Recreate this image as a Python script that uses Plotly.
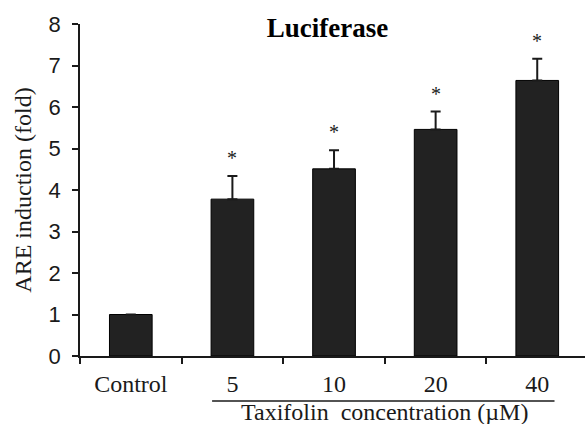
import plotly.graph_objects as go

categories = ["Control", "5", "10", "20", "40"]
values = [1.0, 3.78, 4.51, 5.46, 6.64]
errors = [0.0, 0.56, 0.45, 0.43, 0.52]
significant = ["", "*", "*", "*", "*"]
y_ticks = [0, 1, 2, 3, 4, 5, 6, 7, 8]

SERIF = "Liberation Serif"
SANS = "Liberation Sans"
INK = "#1a1a1a"

fig = go.Figure()
fig.add_trace(go.Bar(
    x=categories, y=values, width=0.42,
    marker=dict(color="#222222", line=dict(color="#000000", width=1)),
    error_y=dict(type="data", symmetric=False, array=errors,
                 arrayminus=[0] * len(errors), color=INK, thickness=2, width=5),
    showlegend=False,
))

for i, (v, e, s) in enumerate(zip(values, errors, significant)):
    if s:
        fig.add_annotation(x=i, y=v + e, xref="x", yref="y", text=s, showarrow=False,
                           yanchor="bottom", yshift=5,
                           font=dict(family=SERIF, size=20, color=INK))

# group bracket under the concentration categories
i5, i40 = categories.index("5"), categories.index("40")
fig.add_shape(type="line", xref="x", yref="paper",
              x0=i5 - 0.2, x1=i40 + 0.17,
              y0=-0.1355, y1=-0.1355, line=dict(color=INK, width=1.5))
fig.add_annotation(xref="x", yref="paper",
                   x=(i5 + i40) / 2, y=-0.2048,
                   text="Taxifolin  concentration (µM)", showarrow=False,
                   yanchor="bottom", borderpad=0, yshift=-2,
                   font=dict(family=SERIF, size=24, color=INK))

fig.update_layout(
    width=585, height=424,
    margin=dict(l=80, r=0, t=24, b=68),
    paper_bgcolor="white", plot_bgcolor="white",
    title=dict(text="<b>Luciferase</b>", x=0.49, xref="paper", y=1 - 28 / 424,
               yref="container", xanchor="center", yanchor="middle",
               font=dict(family=SERIF, size=27, color="#000000")),
    font=dict(family=SERIF, color=INK),
)
fig.update_xaxes(type="category", range=[-0.5, 4.47], showline=True, linecolor=INK,
                 linewidth=1.5, ticks="outside", ticklen=6, tickwidth=1.5,
                 tickcolor=INK, tickson="boundaries", showgrid=False,
                 tickfont=dict(family=SERIF, size=24, color=INK), ticklabelstandoff=5)
fig.update_yaxes(range=[0, 8], tickvals=y_ticks, showline=True, linecolor=INK,
                 linewidth=1.5, ticks="outside", ticklen=6, tickwidth=1.5,
                 tickcolor=INK, showgrid=False, zeroline=False,
                 tickfont=dict(family=SANS, size=22, color=INK), ticklabelstandoff=7,
                 title=dict(text="ARE induction (fold)", standoff=10,
                            font=dict(family=SERIF, size=24, color=INK)))

fig.write_html("out.html")
